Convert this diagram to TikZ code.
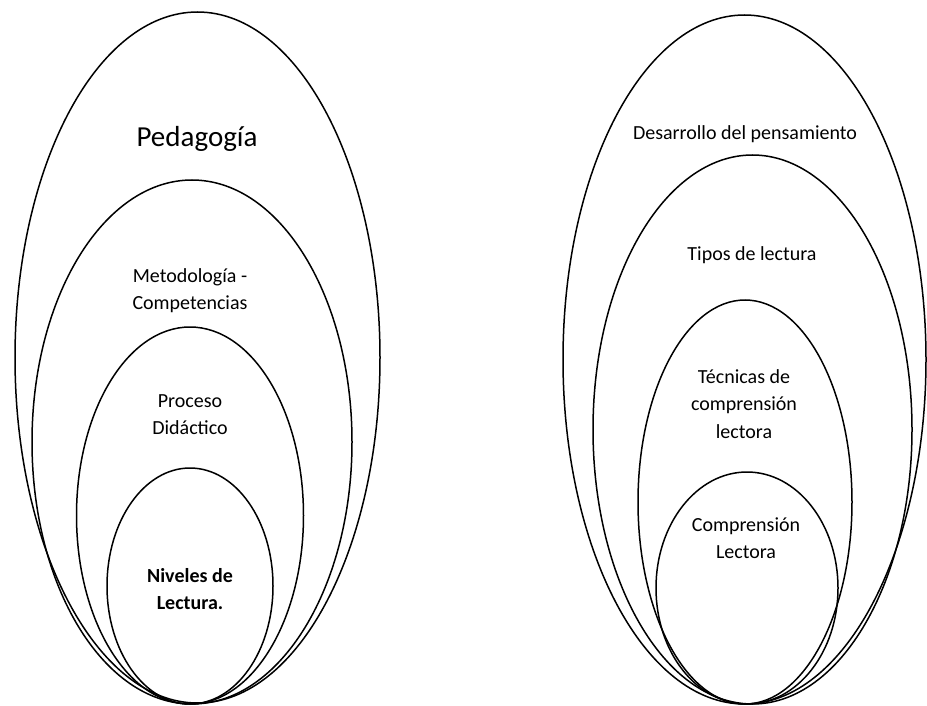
\documentclass[tikz,border=0pt]{standalone}
\usepackage{fontspec}
\setmainfont{Carlito}
\usetikzlibrary{shapes.geometric}
\tikzset{
  ring/.style={line width=1.5pt, draw=black},
  lbl/.style={anchor=base, inner sep=0pt, font=\fontsize{20}{27.5}\selectfont},
}
\newcommand{\lines}[1]{\begin{tabular}[t]{@{}c@{}}#1\end{tabular}}
\begin{document}
\begin{tikzpicture}[x=1pt,y=-1pt]
\useasboundingbox (0,0) rectangle (927,706);
% left cluster
\draw[ring] (197.5,357.5) ellipse [x radius=182.5pt, y radius=345.5pt];
\draw[ring] (192,442) ellipse [x radius=160pt, y radius=262pt];
\draw[ring] (190,515.5) ellipse [x radius=113.5pt, y radius=188.5pt];
\draw[ring] (190,586) ellipse [x radius=83pt, y radius=118pt];
% right cluster
\draw[ring] (744.5,359.5) ellipse [x radius=181.5pt, y radius=344.5pt];
\draw[ring] (752.5,429.5) ellipse [x radius=159.5pt, y radius=274.5pt];
\draw[ring] (745,502) ellipse [x radius=107pt, y radius=202pt];
\draw[ring] (747,588) ellipse [x radius=91pt, y radius=116pt];
% labels left
\node[lbl, font=\fontsize{29}{32}\selectfont] (ped) at (197,147) {Pedagogía};
\node[lbl] (met) at (190,282) {\lines{Metodología -\\Competencias}};
\node[lbl] (pro) at (190,407) {\lines{Proceso\\Didáctico}};
\node[lbl, font=\fontsize{20}{27.5}\selectfont\bfseries] (niv) at (190,582) {\lines{Niveles de\\Lectura.}};
% labels right
\node[lbl] (des) at (745,140) {Desarrollo del pensamiento};
\node[lbl] (tip) at (752,260) {Tipos de lectura};
\node[lbl] (tec) at (744,383) {\lines{Técnicas de\\comprensión\\lectora}};
\node[lbl] (com) at (746,531) {\lines{Comprensión\\Lectora}};
\end{tikzpicture}
\end{document}
